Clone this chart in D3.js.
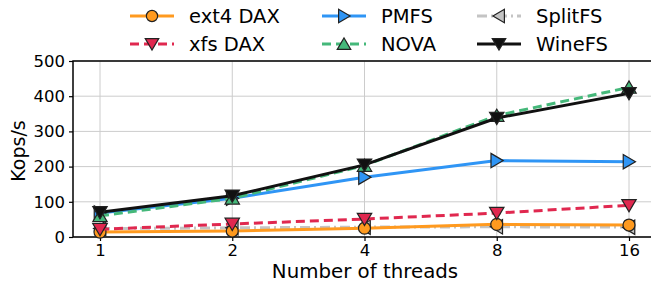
<!DOCTYPE html>
<html>
<head>
<meta charset="utf-8">
<script src="https://cdn.jsdelivr.net/npm/d3@7"></script>
<style>
  body { margin: 0; background: #fff; overflow: hidden; }
  text { font-family: "DejaVu Sans", sans-serif; fill: #000; }
</style>
</head>
<body>
<div id="chart"></div>
<script>
// data
var threads = [1, 2, 4, 8, 16];
var ext4Dax = [14, 17, 25, 36, 34];
var xfsDax = [22, 37, 51, 68, 90];
var pmfs = [68, 110, 170, 217, 214];
var nova = [60, 110, 203, 345, 425];
var splitFs = [24, 26, 28, 29, 28];
var wineFs = [70, 117, 205, 338, 408];
var yTicks = [0, 100, 200, 300, 400, 500];

var series = [
  { name: "ext4 DAX", values: ext4Dax, color: "#ff9a1f", dash: null, marker: "circle", fill: "#ff9a1f" },
  { name: "xfs DAX", values: xfsDax, color: "#e0284f", dash: "9,5", marker: "down", fill: "#e0284f" },
  { name: "PMFS", values: pmfs, color: "#2f95f5", dash: null, marker: "right", fill: "#2f95f5" },
  { name: "NOVA", values: nova, color: "#45b87a", dash: "9,5", marker: "up", fill: "#45b87a" },
  { name: "SplitFS", values: splitFs, color: "#c4c4c4", dash: "10,4,2,4", marker: "left", fill: "#c4c4c4" },
  { name: "WineFS", values: wineFs, color: "#111111", dash: null, marker: "down", fill: "#111111" }
];
// draw order: matches how the lines overlap in the picture
var drawOrder = ["SplitFS", "ext4 DAX", "xfs DAX", "PMFS", "NOVA", "WineFS"];

var W = 651, H = 285;
// the right side of the axes runs past the picture edge
var mLeft = 73, mRight = 657, mTop = 61, mBottom = 237;

var svg = d3.select("#chart").append("svg")
  .attr("width", W).attr("height", H);

var x = d3.scaleLog().base(2).domain([1, 16]).range([100, 629]);
var y = d3.scaleLinear().domain([0, 500]).range([mBottom, mTop]);

// grid
svg.append("g").selectAll("line.gy").data(yTicks).enter().append("line")
  .attr("x1", mLeft).attr("x2", mRight)
  .attr("y1", function(d){ return y(d); }).attr("y2", function(d){ return y(d); })
  .attr("stroke", "#cccccc").attr("stroke-width", 1);
svg.append("g").selectAll("line.gx").data(threads).enter().append("line")
  .attr("x1", function(d){ return x(d); }).attr("x2", function(d){ return x(d); })
  .attr("y1", mTop).attr("y2", mBottom)
  .attr("stroke", "#cccccc").attr("stroke-width", 1);

// axes
var xAxis = svg.append("g").attr("transform", "translate(0," + mBottom + ")")
  .call(d3.axisBottom(x).tickValues(threads).tickFormat(d3.format("d")).tickSize(4).tickPadding(3));
var yAxis = svg.append("g").attr("transform", "translate(" + mLeft + ",0)")
  .call(d3.axisLeft(y).tickValues(yTicks).tickSize(4).tickPadding(4));
[xAxis, yAxis].forEach(function(a){
  a.select(".domain").remove();
  a.selectAll("text").style("font-size", "16.5px").style("font-family", "DejaVu Sans");
  a.selectAll("line").attr("stroke", "#000").attr("stroke-width", 1.2);
});

// frame
svg.append("rect")
  .attr("x", mLeft).attr("y", mTop)
  .attr("width", mRight - mLeft).attr("height", mBottom - mTop)
  .attr("fill", "none").attr("stroke", "#000").attr("stroke-width", 1.5);

function markerPath(type, s) {
  var h = s * 0.9;
  if (type === "down") return "M" + (-h) + "," + (-h * 0.8) + "L" + h + "," + (-h * 0.8) + "L0," + (h * 0.9) + "Z";
  if (type === "up") return "M" + (-h) + "," + (h * 0.8) + "L" + h + "," + (h * 0.8) + "L0," + (-h * 0.9) + "Z";
  if (type === "right") return "M" + (-h * 0.8) + "," + (-h) + "L" + (-h * 0.8) + "," + h + "L" + (h * 0.9) + ",0Z";
  if (type === "left") return "M" + (h * 0.8) + "," + (-h) + "L" + (h * 0.8) + "," + h + "L" + (-h * 0.9) + ",0Z";
}

function drawMarker(g, s, cx, cy, size) {
  if (s.marker === "circle") {
    g.append("circle").attr("cx", cx).attr("cy", cy).attr("r", size * 0.75)
      .attr("fill", s.fill).attr("stroke", "#222").attr("stroke-width", 1.2);
  } else {
    g.append("path").attr("d", markerPath(s.marker, size))
      .attr("transform", "translate(" + cx + "," + cy + ")")
      .attr("fill", s.fill).attr("stroke", "#222").attr("stroke-width", 1.2);
  }
}

var line = d3.line()
  .x(function(d, i){ return x(threads[i]); })
  .y(function(d){ return y(d); });

drawOrder.forEach(function(name){
  var s = series.find(function(e){ return e.name === name; });
  var g = svg.append("g");
  g.append("path").datum(s.values)
    .attr("d", line)
    .attr("fill", "none")
    .attr("stroke", s.color)
    .attr("stroke-width", 3)
    .attr("stroke-dasharray", s.dash);
  s.values.forEach(function(v, i){
    drawMarker(g, s, x(threads[i]), y(v), 8);
  });
});

// legend, 3 columns x 2 rows
var legX = [130, 322, 477], legY = [16, 44];
series.forEach(function(s, i){
  var col = Math.floor(i / 2), row = i % 2;
  var g = svg.append("g").attr("transform", "translate(" + legX[col] + "," + legY[row] + ")");
  g.append("line").attr("x1", 0).attr("x2", 44).attr("y1", 0).attr("y2", 0)
    .attr("stroke", s.color).attr("stroke-width", 3).attr("stroke-dasharray", s.dash);
  drawMarker(g, s, 22, 0, 7.5);
  g.append("text").attr("x", 59).attr("y", 0).attr("dy", "0.35em")
    .style("font-size", "19.5px").text(s.name);
});

// axis titles
svg.append("text")
  .attr("transform", "translate(18,151) rotate(-90)")
  .attr("text-anchor", "middle").attr("dy", "0.35em")
  .style("font-size", "19px").text("Kops/s");
svg.append("text")
  .attr("x", (mLeft + mRight) / 2).attr("y", 271).attr("dy", "0.35em")
  .attr("text-anchor", "middle")
  .style("font-size", "19.8px").text("Number of threads");
</script>
</body>
</html>
